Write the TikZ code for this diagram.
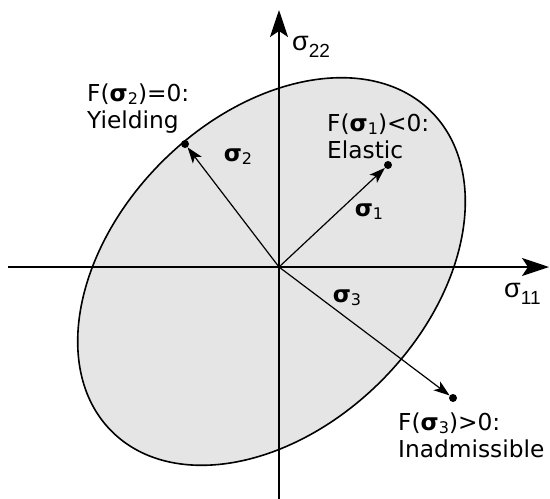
\documentclass[tikz,border=0pt]{standalone}
\usepackage{fontspec}
\setmainfont{DejaVu Sans}
\newfontfamily\axisfont{Liberation Sans}
\usetikzlibrary{arrows.meta}
\newcommand\lsub[1]{\raisebox{-3pt}{\fontsize{16}{16}\selectfont #1}}
\newcommand\asub[1]{\raisebox{-7pt}{\fontsize{19}{19}\selectfont #1}}
\begin{document}
\begin{tikzpicture}[x=1pt,y=-1pt,
  axis/.style={line width=2pt,-{Stealth[length=27pt,width=18pt,inset=6pt]}},
  vec/.style={line width=1.2pt,-{Stealth[length=16pt,width=11pt,inset=4pt]}},
  dot/.style={circle,fill=black,inner sep=0pt,minimum size=8pt},
  lab/.style={inner sep=0pt,anchor=base west,font=\fontsize{23.3}{28}\selectfont},
  vlab/.style={inner sep=0pt,font=\fontsize{23.3}{28}\selectfont},
  alab/.style={inner sep=0pt,anchor=base west,font=\axisfont\fontsize{27}{30}\selectfont}]
\useasboundingbox (0,0) rectangle (550,499);
% yield surface
\draw[line width=1.6pt,fill=black!10,shift={(271.5,271.5)},rotate=45] (0,0) ellipse [x radius=226, y radius=155];
% axes
\coordinate (O) at (279,267);
\coordinate (xs) at (8,267);
\coordinate (xe) at (549,267);
\coordinate (ys) at (279,499);
\coordinate (ye) at (279,10);
\draw[axis] (xs) -- (xe);
\draw[axis] (ys) -- (ye);
\node[alab] (ax1) at (504,297) {σ\asub{11}};
\node[alab] (ax2) at (292,50) {σ\asub{22}};
% stress points
\node[dot] (p1) at (388,165) {};
\node[dot] (p2) at (185,144) {};
\node[dot] (p3) at (453,398) {};
\draw[vec] (O) -- (p1);
\draw[vec] (O) -- (p2);
\draw[vec] (O) -- (p3);
\node[vlab] (s1) at (369,212) {\textbf{σ}\lsub{1}};
\node[vlab] (s2) at (238,157) {\textbf{σ}\lsub{2}};
\node[vlab] (s3) at (347,298) {\textbf{σ}\lsub{3}};
% labels
\node[lab] (l1a) at (327,131) {F(\textbf{σ}\lsub{1})<0:};
\node[lab] (l1b) at (327,158) {Elastic};
\node[lab] (l2a) at (87,101) {F(\textbf{σ}\lsub{2})=0:};
\node[lab] (l2b) at (87,128) {Yielding};
\node[lab] (l3a) at (398,430) {F(\textbf{σ}\lsub{3})>0:};
\node[lab] (l3b) at (398,457) {Inadmissible};
\end{tikzpicture}
\end{document}
